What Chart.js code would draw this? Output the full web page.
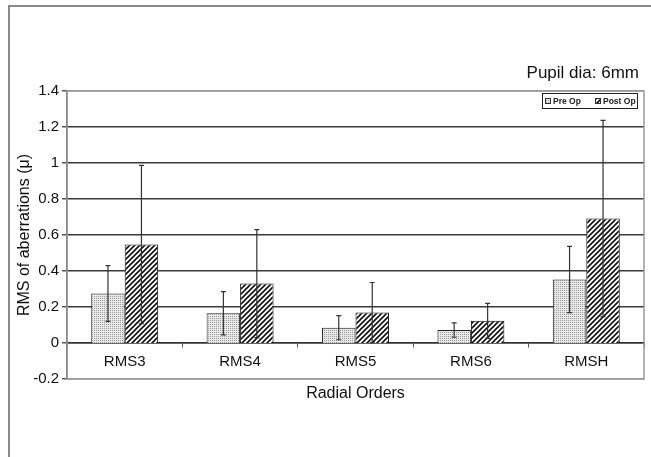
<!DOCTYPE html>
<html>
<head>
<meta charset="utf-8">
<script src="https://cdn.jsdelivr.net/npm/chart.js@4/dist/chart.umd.min.js"></script>
<style>
    html, body { margin: 0; padding: 0; background: #fff; }
    #wrap { width: 651px; height: 457px; }
</style>
</head>
<body>
<div id="wrap"><canvas id="chart" width="651" height="457"></canvas></div>
<script>
const categories = ['RMS3', 'RMS4', 'RMS5', 'RMS6', 'RMSH'];
const preOp = [0.275, 0.165, 0.085, 0.072, 0.353];
const preOpErr = [0.155, 0.12, 0.067, 0.04, 0.184];
const postOp = [0.547, 0.33, 0.169, 0.123, 0.692];
const postOpErr = [0.44, 0.30, 0.167, 0.097, 0.545];
const seriesLabels = ['Pre Op', 'Post Op'];
const subtitle = 'Pupil dia: 6mm';

const FONT = "'Liberation Sans', Arial, sans-serif";

// stipple fill for Pre Op
function dotPattern() {
    const c = document.createElement('canvas');
    c.width = 2; c.height = 2;
    const g = c.getContext('2d');
    g.fillStyle = '#e8e8e8';
    g.fillRect(0, 0, 2, 2);
    g.fillStyle = '#9c9c9c';
    g.fillRect(0, 0, 1, 1);
    return g.createPattern(c, 'repeat');
}

// diagonal hatch for Post Op
function hatchPattern() {
    const s = 5;
    const c = document.createElement('canvas');
    c.width = s; c.height = s;
    const g = c.getContext('2d');
    g.fillStyle = '#fff';
    g.fillRect(0, 0, s, s);
    g.strokeStyle = '#111';
    g.lineWidth = 1.6;
    g.beginPath();
    g.moveTo(-1, s + 1); g.lineTo(s + 1, -1);
    g.moveTo(-1, 1); g.lineTo(1, -1);
    g.moveTo(s - 1, s + 1); g.lineTo(s + 1, s - 1);
    g.stroke();
    return g.createPattern(c, 'repeat');
}

const fills = [dotPattern(), hatchPattern()];

const frame = {
    id: 'frame',
    beforeDraw(chart) {
        const ctx = chart.ctx;
        ctx.save();
        ctx.fillStyle = '#fff';
        ctx.fillRect(0, 0, chart.width, chart.height);
        ctx.strokeStyle = '#8a8a8a';
        ctx.lineWidth = 2;
        ctx.beginPath();
        ctx.moveTo(9, chart.height);
        ctx.lineTo(9, 6);
        ctx.lineTo(chart.width, 6);
        ctx.stroke();
        ctx.restore();
    },
    beforeDatasetsDraw(chart) {
        const a = chart.chartArea;
        const ctx = chart.ctx;
        ctx.save();
        ctx.strokeStyle = '#9a9a9a';
        ctx.lineWidth = 1.5;
        ctx.strokeRect(a.left, a.top, a.right - a.left, a.bottom - a.top);
        ctx.restore();
    }
};

const errorBars = {
    id: 'errorBars',
    afterDatasetsDraw(chart) {
        const ctx = chart.ctx;
        const y = chart.scales.y;
        const errs = [preOpErr, postOpErr];
        ctx.save();
        ctx.strokeStyle = '#333';
        ctx.lineWidth = 1.2;
        chart.data.datasets.forEach((ds, i) => {
            chart.getDatasetMeta(i).data.forEach((bar, j) => {
                const v = ds.data[j];
                const top = y.getPixelForValue(v + errs[i][j]);
                const bot = y.getPixelForValue(v - errs[i][j]);
                ctx.beginPath();
                ctx.moveTo(bar.x, top); ctx.lineTo(bar.x, bot);
                ctx.moveTo(bar.x - 2.5, top); ctx.lineTo(bar.x + 2.5, top);
                ctx.moveTo(bar.x - 2.5, bot); ctx.lineTo(bar.x + 2.5, bot);
                ctx.stroke();
            });
        });
        ctx.restore();
    }
};

const boxLegend = {
    id: 'boxLegend',
    afterDraw(chart) {
        const ctx = chart.ctx;
        ctx.save();
        // subtitle top right
        ctx.fillStyle = '#111';
        ctx.font = '17px ' + FONT;
        ctx.textAlign = 'right';
        ctx.textBaseline = 'middle';
        ctx.fillText(subtitle, 639, 73);

        // legend box inside the plot
        const x0 = 542, y0 = 93, w = 95, h = 15;
        ctx.fillStyle = '#fff';
        ctx.fillRect(x0, y0, w, h);
        ctx.strokeStyle = '#222';
        ctx.lineWidth = 1;
        ctx.strokeRect(x0 + 0.5, y0 + 0.5, w, h);
        ctx.font = 'bold 8.5px ' + FONT;
        ctx.textAlign = 'left';
        const xs = [545, 595];
        seriesLabels.forEach((lab, i) => {
            ctx.fillStyle = fills[i];
            ctx.fillRect(xs[i], y0 + 5, 6, 6);
            ctx.strokeStyle = '#333';
            ctx.strokeRect(xs[i] + 0.5, y0 + 5.5, 5, 5);
            ctx.fillStyle = '#222';
            ctx.fillText(lab, xs[i] + 8, y0 + 8.5);
        });
        ctx.restore();
    }
};

new Chart(document.getElementById('chart'), {
    type: 'bar',
    data: {
        labels: categories,
        datasets: [
            {
                label: seriesLabels[0],
                data: preOp,
                backgroundColor: fills[0],
                borderColor: '#222',
                borderWidth: 1,
                categoryPercentage: 0.58,
                barPercentage: 1
            },
            {
                label: seriesLabels[1],
                data: postOp,
                backgroundColor: fills[1],
                borderColor: '#111',
                borderWidth: 1,
                categoryPercentage: 0.58,
                barPercentage: 1
            }
        ]
    },
    options: {
        responsive: false,
        animation: false,
        events: [],
        layout: {
            padding: { top: 91, right: 7, bottom: 78, left: 0 }
        },
        plugins: {
            legend: { display: false },
            tooltip: { enabled: false }
        },
        scales: {
            x: {
                position: { y: 0 },
                grid: {
                    offset: true,
                    drawOnChartArea: false,
                    tickLength: 4,
                    color: '#555'
                },
                border: { color: '#333', width: 1.5 },
                ticks: {
                    padding: 6,
                    color: '#111',
                    font: { family: FONT, size: 15 }
                },
                title: {
                    display: true,
                    text: 'Radial Orders',
                    color: '#111',
                    font: { family: FONT, size: 16 },
                    padding: { top: 7, bottom: 0 }
                }
            },
            y: {
                min: -0.2,
                max: 1.4,
                afterFit: scale => { scale.width = 67; },
                ticks: {
                    stepSize: 0.2,
                    padding: 3,
                    color: '#111',
                    font: { family: FONT, size: 15 },
                    callback: v => String(Number(v.toFixed(1)))
                },
                grid: {
                    tickLength: 5,
                    tickColor: '#555',
                    lineWidth: 1.5,
                    color: ctx => {
                        const v = Math.round(ctx.tick.value * 10) / 10;
                        return (v === 1.4 || v === -0.2) ? '#9a9a9a' : '#3a3a3a';
                    }
                },
                border: { color: '#555', width: 1.5 },
                title: {
                    display: true,
                    text: 'RMS of aberrations (μ)',
                    color: '#111',
                    font: { family: FONT, size: 16 },
                    padding: { top: 15, bottom: 0 }
                }
            }
        }
    },
    plugins: [frame, errorBars, boxLegend]
});
</script>
</body>
</html>
